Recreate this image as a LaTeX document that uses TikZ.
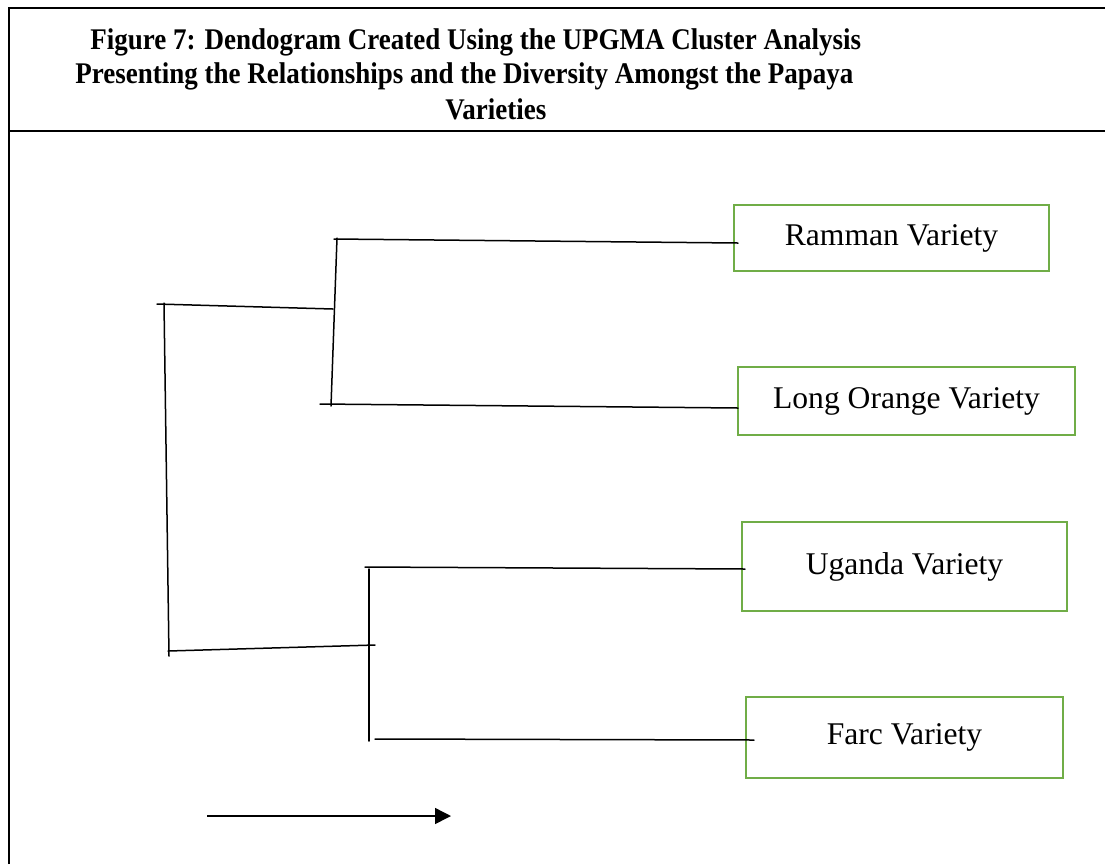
\documentclass[tikz,border=0pt]{standalone}
\usepackage{fontspec}
\setmainfont{Liberation Serif}
\newfontfamily\titlefont[FakeStretch=0.9]{Liberation Serif}
\usetikzlibrary{arrows.meta}
\definecolor{boxgreen}{RGB}{112,173,71}

\begin{document}
\begin{tikzpicture}[x=0.5pt,y=-0.5pt,
         frame/.style = {line width=1pt},
         branch/.style = {line width=0.75pt, line cap=round},
         variety/.style = {draw=boxgreen, line width=1.4pt, inner sep=0pt,
            font=\fontsize{15.8pt}{18pt}\selectfont},
         heading/.style = {anchor=base west, inner sep=0pt,
            font=\titlefont\bfseries\fontsize{15pt}{18pt}\selectfont}
]
   \useasboundingbox (0,0) rectangle (1105,864);

   % table frame
   \draw[frame] (9,864) -- (9,7.5) -- (1106,7.5);
   \draw[frame] (9,130.5) -- (1106,130.5);

   % caption
   \node[heading] (title1) at (90,49)  {Figure 7: Dendogram Created Using the UPGMA Cluster Analysis};
   \node[heading] (title2) at (75,83)  {Presenting the Relationships and the Diversity Amongst the Papaya};
   \node[heading] (title3) at (445,119) {Varieties};

   % varieties (sizes in pt, half the pixel size)
   \node[variety, minimum width=157.5pt, minimum height=33pt]   (ramman) at (891.5,238) {Ramman Variety};
   \node[variety, minimum width=168.5pt, minimum height=34pt]   (orange) at (906.5,401) {Long Orange Variety};
   \node[variety, minimum width=162.5pt, minimum height=44.5pt] (uganda) at (904.5,566.5) {Uganda Variety};
   \node[variety, minimum width=158.5pt, minimum height=40.5pt] (farc)   at (904.5,737.5) {Farc Variety};

   % root
   \coordinate (r0) at (164,303);
   \coordinate (r1) at (169,656);
   \draw[branch] (r0) -- (r1);

   % upper cluster
   \coordinate (s1a) at (157,304);
   \coordinate (s1b) at (333,309);
   \coordinate (v1a) at (337,238);
   \coordinate (v1b) at (331,406);
   \coordinate (l1a) at (334,239);
   \coordinate (l1b) at (738,243);
   \coordinate (l2a) at (320,404);
   \coordinate (l2b) at (738,408);
   \draw[branch] (s1a) -- (s1b);
   \draw[branch] (v1a) -- (v1b);
   \draw[branch] (l1a) -- (l1b);
   \draw[branch] (l2a) -- (l2b);

   % lower cluster
   \coordinate (s2a) at (168,651);
   \coordinate (s2b) at (375,645);
   \coordinate (v2a) at (369,569);
   \coordinate (v2b) at (369,741);
   \coordinate (l3a) at (365,567);
   \coordinate (l3b) at (745,569);
   \coordinate (l4a) at (375,739);
   \coordinate (l4b) at (754,740);
   \draw[branch] (s2a) -- (s2b);
   \draw[branch] (v2a) -- (v2b);
   \draw[branch] (l3a) -- (l3b);
   \draw[branch] (l4a) -- (l4b);

   % scale arrow
   \coordinate (a0) at (207,816);
   \coordinate (a1) at (451,816);
   \draw[line width=0.75pt, -{Triangle[length=8pt,width=8pt]}] (a0) -- (a1);
\end{tikzpicture}
\end{document}
